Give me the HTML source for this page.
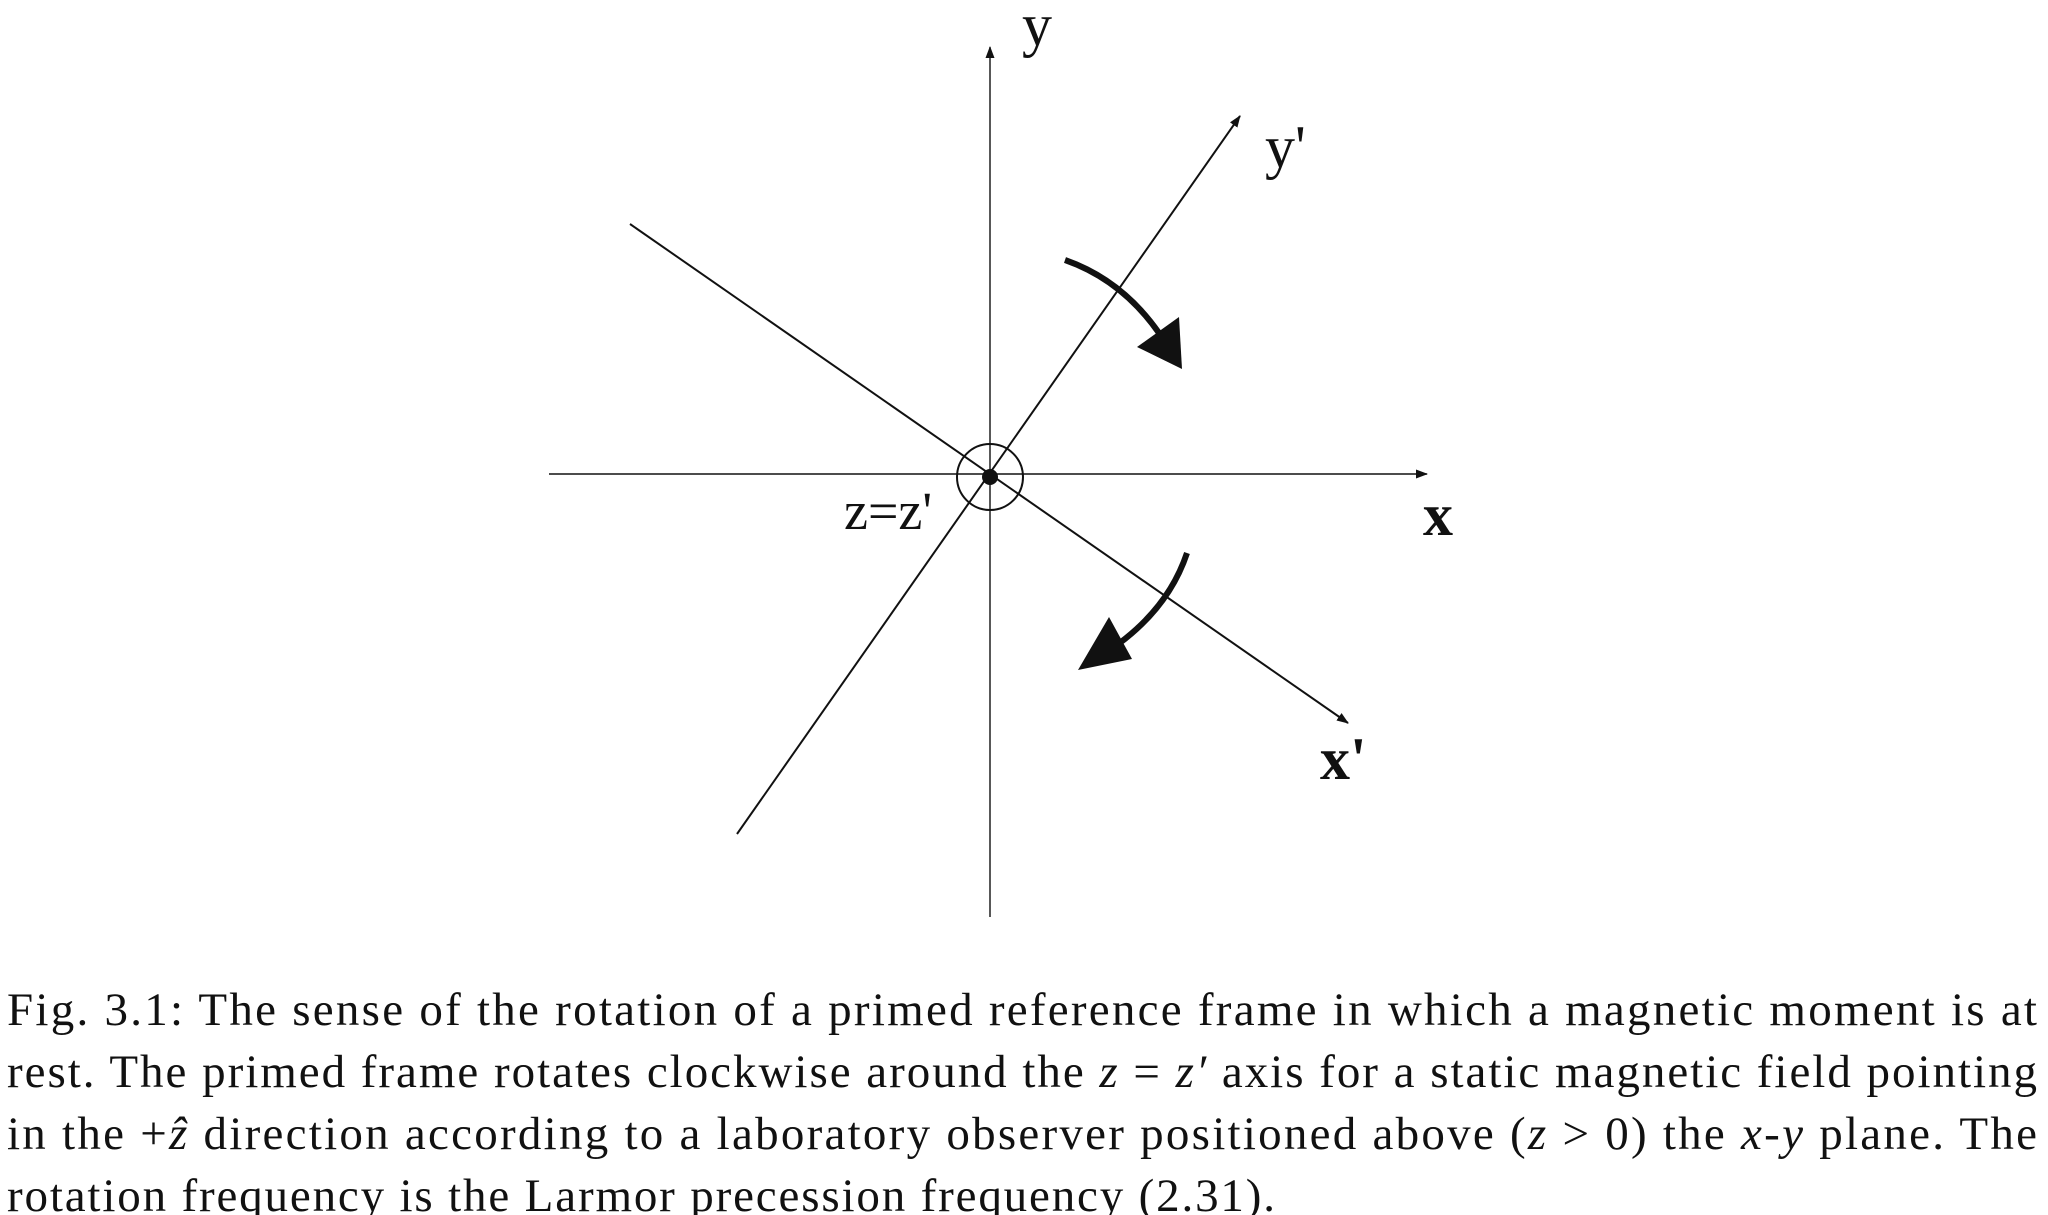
<!DOCTYPE html>
<html><head><meta charset="utf-8"><style>
html,body{margin:0;padding:0;background:#fff;width:2048px;height:1215px;overflow:hidden}
svg{display:block}
.cap{font-family:"Liberation Serif",serif;font-size:47px;fill:#111}
.lab{font-family:"Liberation Serif",serif;font-size:60px;fill:#111}
</style></head><body>
<svg width="2048" height="1215" viewBox="0 0 2048 1215">
<defs>
<marker id="ah" markerWidth="12" markerHeight="9" refX="11" refY="4.5" orient="auto" markerUnits="userSpaceOnUse"><path d="M0,0 L12,4.5 L0,9 Z" fill="#111"/></marker>
</defs>
<g transform="translate(-13,-5)">
<g stroke="#111" fill="none">
<line x1="1003" y1="922" x2="1003" y2="52" stroke-width="1.4" marker-end="url(#ah)"/>
<line x1="562" y1="479" x2="1440" y2="479" stroke-width="1.4" marker-end="url(#ah)"/>
<line x1="750" y1="839" x2="1253" y2="121" stroke-width="2" marker-end="url(#ah)"/>
<line x1="643" y1="229" x2="1361" y2="728" stroke-width="2" marker-end="url(#ah)"/>
<circle cx="1003" cy="482" r="33" stroke-width="2"/>
<path d="M1078,265 Q1135,285 1172,338" stroke-width="6"/>
<path d="M1200,558 Q1182,612 1130,650" stroke-width="6"/>
</g>
<circle cx="1003" cy="482" r="8" fill="#111"/>
<path d="M1150,352 L1192,322 L1195,374 Z" fill="#111"/>
<path d="M1122,622 L1145,664 L1091,675 Z" fill="#111"/>
<text class="lab" x="1035" y="50">y</text>
<text class="lab" x="1278" y="172">y'</text>
<text class="lab" x="1436" y="540" font-weight="bold">x</text>
<text class="lab" x="1333" y="784" font-weight="bold">x'</text>
<text class="lab" x="857" y="534" style="font-size:54px">z=z'</text>
</g>
<g>
<text class="cap" x="7" y="1025" textLength="2030" lengthAdjust="spacing">Fig. 3.1: The sense of the rotation of a primed reference frame in which a magnetic moment is at</text>
<text class="cap" x="7" y="1087" textLength="2030" lengthAdjust="spacing">rest. The primed frame rotates clockwise around the <tspan font-style="italic">z</tspan> = <tspan font-style="italic">z′</tspan> axis for a static magnetic field pointing</text>
<text class="cap" x="7" y="1149" textLength="2030" lengthAdjust="spacing">in the +<tspan font-style="italic">ẑ</tspan> direction according to a laboratory observer positioned above (<tspan font-style="italic">z</tspan> &gt; 0) the <tspan font-style="italic">x</tspan>-<tspan font-style="italic">y</tspan> plane. The</text>
<text class="cap" x="7" y="1211" textLength="1268" lengthAdjust="spacing">rotation frequency is the Larmor precession frequency (2.31).</text>
</g>
</svg>
</body></html>
